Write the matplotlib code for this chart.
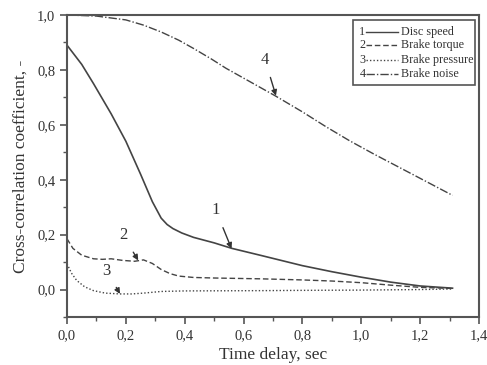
import numpy as np
import matplotlib.pyplot as plt
from matplotlib.ticker import MultipleLocator, FuncFormatter

plt.rcParams['font.family'] = ['Liberation Serif', 'DejaVu Serif']

# --- data ---
t_speed = [0.0, 0.05, 0.09, 0.15, 0.20, 0.25, 0.29, 0.32, 0.34, 0.36, 0.39, 0.43, 0.50, 0.56, 0.66, 0.80, 0.90, 1.00, 1.10, 1.20, 1.31]
speed = [0.89, 0.82, 0.75, 0.64, 0.54, 0.42, 0.32, 0.26, 0.237, 0.222, 0.206, 0.19, 0.17, 0.15, 0.124, 0.087, 0.065, 0.045, 0.027, 0.013, 0.005]

t_torque = [0.0, 0.02, 0.05, 0.09, 0.12, 0.15, 0.19, 0.23, 0.26, 0.29, 0.32, 0.35, 0.38, 0.43, 0.50, 0.66, 0.80, 0.90, 1.00, 1.10, 1.20, 1.31]
torque = [0.185, 0.15, 0.125, 0.112, 0.11, 0.112, 0.106, 0.103, 0.108, 0.095, 0.073, 0.058, 0.049, 0.044, 0.042, 0.039, 0.035, 0.031, 0.025, 0.016, 0.008, 0.004]

t_press = [0.0, 0.015, 0.033, 0.06, 0.09, 0.13, 0.18, 0.22, 0.26, 0.32, 0.40, 0.66, 0.80, 1.00, 1.20, 1.31]
press = [0.094, 0.06, 0.033, 0.01, -0.004, -0.013, -0.016, -0.016, -0.013, -0.007, -0.005, -0.004, -0.003, -0.002, 0.0, 0.002]

t_noise = [0.0, 0.10, 0.20, 0.26, 0.32, 0.38, 0.43, 0.49, 0.54, 0.62, 0.71, 0.80, 0.88, 0.96, 1.04, 1.12, 1.20, 1.31]
noise = [1.0, 0.996, 0.982, 0.963, 0.938, 0.908, 0.878, 0.84, 0.806, 0.758, 0.704, 0.647, 0.593, 0.542, 0.495, 0.45, 0.405, 0.343]

labels = ['Disc speed', 'Brake torque', 'Brake pressure', 'Brake noise']
styles = ['-', (0, (4, 2)), (0, (1, 1.5)), (0, (6, 1.5, 1, 1.5))]
col = '#444444'

fig = plt.figure(figsize=(4.87, 3.65), dpi=100)
ax = fig.add_axes([0.1376, 0.1315, 0.846, 0.8275])

series = [(t_speed, speed), (t_torque, torque), (t_press, press), (t_noise, noise)]
for (tx, ty), ls in zip(series, styles):
    ax.plot(tx, ty, color=col, lw=1.2 if ls == '-' else 1.0, linestyle=ls)

ax.set_xlim(0, 1.4)
ax.set_ylim(-0.1, 1.0)
ax.xaxis.set_major_locator(MultipleLocator(0.2))
ax.xaxis.set_minor_locator(MultipleLocator(0.1))
ax.yaxis.set_major_locator(MultipleLocator(0.2))
ax.yaxis.set_minor_locator(MultipleLocator(0.1))
comma = FuncFormatter(lambda v, p: f"{v:.1f}".replace('.', ','))
ax.xaxis.set_major_formatter(comma)
ax.yaxis.set_major_formatter(comma)
ax.tick_params(which='both', direction='out', color='#555555', labelsize=10.5, labelcolor='#333333')
ax.tick_params(which='major', length=5, width=1.2)
ax.tick_params(which='minor', length=3, width=1.0)
for s in ax.spines.values():
    s.set_color('#555555')
    s.set_linewidth(1.5)

ax.set_xlabel('Time delay, sec', fontsize=12.5, color='#333333', labelpad=4)
ax.set_ylabel('Cross-correlation coefficient, -', fontsize=12.5, color='#333333', labelpad=6)

# curve numbers with arrows
notes = [('1', (0.506, 0.288), (0.559, 0.149)),
         ('2', (0.191, 0.197), (0.242, 0.106)),
         ('3', (0.135, 0.069), (0.18, -0.016)),
         ('4', (0.673, 0.836), (0.710, 0.706))]
for txt, xy_text, xy in notes:
    ax.annotate(txt, xy=xy, xytext=xy_text, fontsize=12, color='#333333',
                ha='center', va='center',
                arrowprops=dict(arrowstyle='-|>', color='#333333', lw=1.0,
                                mutation_scale=8, shrinkA=5, shrinkB=0))

# legend drawn by hand (number, line, label)
ax.add_patch(plt.Rectangle((0.694, 0.768), 0.296, 0.215, transform=ax.transAxes,
                           fill=False, ec='#555555', lw=1.2))
rows = [0.945, 0.899, 0.851, 0.803]
for i, (y, ls, lab) in enumerate(zip(rows, styles, labels)):
    ax.text(0.717, y, str(i + 1), transform=ax.transAxes, fontsize=8.7,
            ha='center', va='center', color='#333333')
    ax.plot([0.726, 0.803], [y, y], transform=ax.transAxes, color=col,
            lw=1.0, linestyle=ls)
    ax.text(0.811, y, lab, transform=ax.transAxes, fontsize=8.7,
            ha='left', va='center', color='#333333')

fig.savefig('out.png', dpi=100)
